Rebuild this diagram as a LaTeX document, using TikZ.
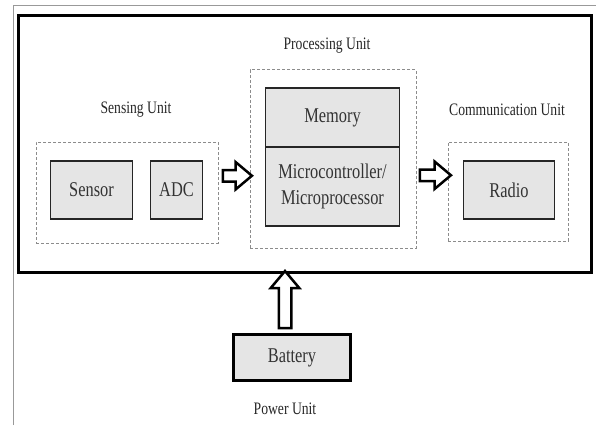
\documentclass[tikz,border=0pt]{standalone}
\usepackage{fontspec}
\setmainfont[FakeStretch=0.78]{Liberation Serif}
\usetikzlibrary{shapes.arrows}

\tikzset{
  part/.style={draw=black!85, line width=1.5pt, fill=black!10, text=black!80,
    font=\fontsize{21}{26}\selectfont, align=center, inner sep=0pt},
  unitbox/.style={draw=black!45, line width=1pt, dash pattern=on 3pt off 2pt, inner sep=0pt},
  title/.style={text=black!85, font=\fontsize{17.5}{20}\selectfont, inner sep=0pt},
  fatarrow/.style={single arrow, draw=black, line width=2.5pt, fill=white, inner sep=0pt,
    inner ysep=4.5pt, single arrow head extend=8pt, single arrow tip angle=80}
}

\begin{document}
\begin{tikzpicture}[x=1pt,y=-1pt]
\useasboundingbox (0,0) rectangle (596,425);

\draw [black!40, line width=0.8pt] (13,425) -- (13,5) -- (596,5);

\node (sys) [draw, line width=3pt, minimum width=573pt, minimum height=256pt, inner sep=0pt] at (305,144) {};

\node (sens) [unitbox, minimum width=182pt, minimum height=101pt] at (127,192.5) {};
\node (sensor) [part, minimum width=82pt, minimum height=58pt] at (91.5,190) {Sensor};
\node (adc) [part, minimum width=52pt, minimum height=58pt] at (176.5,190) {ADC};
\node [title] at (136,110) {Sensing Unit};

\node (proc) [unitbox, minimum width=166pt, minimum height=178pt] at (333,159) {};
\node (mem) [part, minimum width=134pt, minimum height=59pt] at (332.5,117.5) {Memory};
\node (mcu) [part, minimum width=134pt, minimum height=79pt] at (332.5,186.5) {Microcontroller/\\Microprocessor};
\node [title] at (327,46) {Processing Unit};

\node (comm) [unitbox, minimum width=120pt, minimum height=99pt] at (508,191.5) {};
\node (radio) [part, minimum width=91pt, minimum height=58pt] at (509,190) {Radio};
\node [title] at (507,110) {Communication Unit};

\node (bat) [part, draw=black, line width=3pt, minimum width=117pt, minimum height=46pt] at (292,357.5) {Battery};
\node [title] at (285,409) {Power Unit};

\path (sens.east) -- (proc.west) node [midway, fatarrow, minimum height=29pt] {};
\path (proc.east) -- (comm.west) node [midway, fatarrow, minimum height=31pt] {};
\path ([xshift=-7pt]bat.north) -- ([xshift=-7pt]bat.north |- sys.south)
  node [midway, fatarrow, shape border rotate=90, inner xsep=5pt, inner ysep=0pt, minimum height=57pt] {};

\end{tikzpicture}
\end{document}
